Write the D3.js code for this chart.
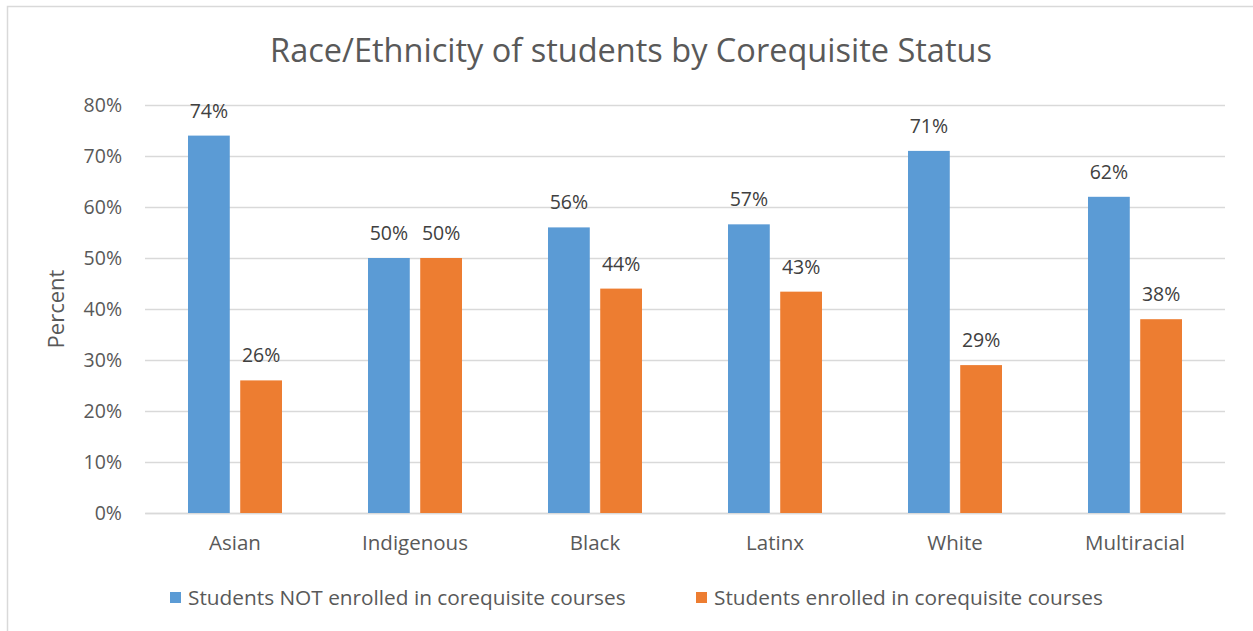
<!DOCTYPE html>
<html><head><meta charset="utf-8">
<script src="https://cdn.jsdelivr.net/npm/d3@7"></script>
<style>body{margin:0;background:#fff;} svg{display:block;}</style>
</head><body>
<script>
const categories = ["Asian","Indigenous","Black","Latinx","White","Multiracial"];
const notEnrolled = [74, 50, 56, 56.6, 71, 62];
const enrolled = [26, 50, 44, 43.4, 29, 38];
const seriesNames = ["Students NOT enrolled in corequisite courses","Students enrolled in corequisite courses"];
const seriesColors = ["#5b9bd5","#ed7d31"];
const yTicks = [0,10,20,30,40,50,60,70,80];
const title = "Race/Ethnicity of students by Corequisite Status";
const yTitle = "Percent";

const W = 1253, H = 631;
const font = "'Open Sans', sans-serif";
const svg = d3.select("body").append("svg").attr("width", W).attr("height", H);
svg.append("rect").attr("x",7.5).attr("y",6.5).attr("width",W).attr("height",H)
  .attr("fill","#fff").attr("stroke","#d9d9d9").attr("stroke-width",1.5);

const m = {left:145, right:1225, top:105, bottom:513};
const x = d3.scaleBand().domain(categories).range([m.left, m.right]);
const inner = d3.scaleBand().domain([0,1]).range([43, 137]).paddingInner(0.2);
const y = d3.scaleLinear().domain([0,80]).range([m.bottom, m.top]);

// gridlines
svg.append("g").selectAll("line").data(yTicks).join("line")
  .attr("x1", m.left).attr("x2", m.right)
  .attr("y1", d=>Math.round(y(d))+0.5).attr("y2", d=>Math.round(y(d))+0.5)
  .attr("stroke","#d9d9d9").attr("stroke-width",1.5);

// y axis labels
const yAxis = svg.append("g").attr("transform",`translate(${m.left},0)`)
  .call(d3.axisLeft(y).tickValues(yTicks).tickFormat(d=>d+"%").tickSize(0).tickPadding(23));
yAxis.select(".domain").remove();
yAxis.selectAll("text").attr("font-family",font).attr("font-size",19.5).attr("fill","#595959");

// x axis labels
const xAxis = svg.append("g").attr("transform",`translate(0,${m.bottom})`)
  .call(d3.axisBottom(x).tickSize(0).tickPadding(22));
xAxis.select(".domain").attr("stroke","#d9d9d9").attr("stroke-width",1.5);
xAxis.selectAll("text").attr("font-family",font).attr("font-size",20.5).attr("fill","#595959");

const series = [notEnrolled, enrolled];
series.forEach((vals, si) => {
  const g = svg.append("g");
  g.selectAll("rect").data(vals).join("rect")
    .attr("x",(d,i)=>x(categories[i])+inner(si))
    .attr("width",inner.bandwidth())
    .attr("y",d=>y(d)).attr("height",d=>y(0)-y(d))
    .attr("fill",seriesColors[si]);
  g.selectAll("text").data(vals).join("text")
    .attr("x",(d,i)=>x(categories[i])+inner(si)+inner.bandwidth()/2)
    .attr("y",d=>y(d)-18)
    .attr("text-anchor","middle")
    .attr("font-family",font).attr("font-size",19.5).attr("fill","#404040")
    .text(d=>Math.round(d)+"%");
});

// title
svg.append("text").attr("x",631).attr("y",62).attr("text-anchor","middle")
  .attr("font-family",font).attr("font-size",32.5).attr("fill","#595959").text(title);

// y title
svg.append("text").attr("transform","translate(64,309) rotate(-90)")
  .attr("text-anchor","middle").attr("font-family",font).attr("font-size",22)
  .attr("fill","#595959").text(yTitle);

// legend
const legX = [170, 696];
seriesNames.forEach((n,i)=>{
  svg.append("rect").attr("x",legX[i]).attr("y",592).attr("width",11).attr("height",11).attr("fill",seriesColors[i]);
  svg.append("text").attr("x",legX[i]+18).attr("y",605).attr("font-family",font).attr("font-size",20.8)
    .attr("fill","#595959").text(n);
});
</script>
</body></html>
